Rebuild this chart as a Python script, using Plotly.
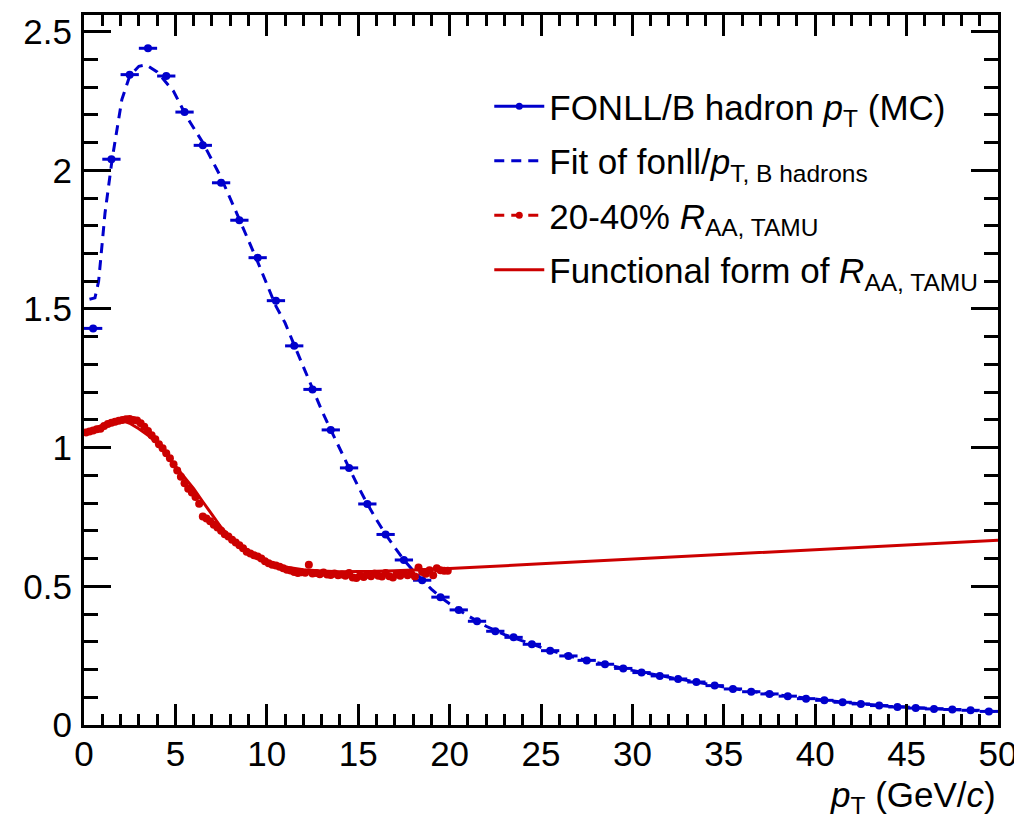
import plotly.graph_objects as go

# ---------------- data ----------------
fonll_x = [0.5, 1.5, 2.5, 3.5, 4.5, 5.5, 6.5, 7.5, 8.5, 9.5,
           10.5, 11.5, 12.5, 13.5, 14.5, 15.5, 16.5, 17.5, 18.5, 19.5,
           20.5, 21.5, 22.5, 23.5, 24.5, 25.5, 26.5, 27.5, 28.5, 29.5,
           30.5, 31.5, 32.5, 33.5, 34.5, 35.5, 36.5, 37.5, 38.5, 39.5,
           40.5, 41.5, 42.5, 43.5, 44.5, 45.5, 46.5, 47.5, 48.5, 49.5]
fonll_y = [1.43, 2.04, 2.345, 2.44, 2.34, 2.21, 2.09, 1.955, 1.82, 1.685,
           1.53, 1.367, 1.21, 1.064, 0.927, 0.797, 0.687, 0.595, 0.522, 0.461,
           0.415, 0.374, 0.338, 0.316, 0.291, 0.268, 0.249, 0.233, 0.219, 0.204,
           0.189, 0.177, 0.166, 0.155, 0.142, 0.130, 0.120, 0.112, 0.104, 0.095,
           0.089, 0.082, 0.076, 0.070, 0.065, 0.061, 0.058, 0.056, 0.053, 0.049]
fonll_xerr = [0.5] * len(fonll_x)

fit_x = [0.3, 0.6, 0.8, 1.15, 1.54, 2.07, 2.5, 3.0, 3.4, 4.0, 4.9, 5.6, 6.5, 7.45,
         8.35, 9.45, 10.5, 11.0, 11.5, 12.0, 12.5, 13.0, 13.5, 14.0, 14.5, 15.0,
         15.5, 16.0, 16.5, 17.0, 17.5, 18.0, 18.5, 19.0, 19.5, 20, 21, 22, 23, 24,
         25, 26, 27, 28, 29, 30, 32, 34, 36, 38, 40, 42, 44, 46, 48, 50]
fit_y = [1.535, 1.54, 1.60, 1.846, 2.04, 2.255, 2.34, 2.375, 2.38, 2.355, 2.285, 2.195,
         2.10, 1.98, 1.846, 1.678, 1.51, 1.45, 1.37, 1.29, 1.21, 1.135, 1.064, 0.993,
         0.927, 0.86, 0.797, 0.74, 0.687, 0.64, 0.595, 0.557, 0.522, 0.49, 0.461,
         0.437, 0.394, 0.356, 0.326, 0.302, 0.28, 0.259, 0.241, 0.226, 0.211, 0.197,
         0.172, 0.149, 0.126, 0.108, 0.093, 0.079, 0.068, 0.060, 0.054, 0.048]

raa_x = [0.1, 0.3, 0.5, 0.7, 0.9, 1.1, 1.3, 1.5, 1.7, 1.9,
         2.1, 2.3, 2.5, 2.7, 2.9, 3.1, 3.3, 3.5, 3.7, 3.9,
         4.1, 4.3, 4.5, 4.7, 4.9, 5.1, 5.3, 5.5, 5.7, 5.9,
         6.1, 6.3, 6.5, 6.7, 6.9, 7.1, 7.3, 7.5, 7.7, 7.9,
         8.1, 8.3, 8.5, 8.7, 8.9, 9.1, 9.3, 9.5, 9.7, 9.9,
         10.1, 10.3, 10.5, 10.7, 10.9, 11.1, 11.3, 11.5, 11.7, 11.9,
         12.1, 12.3, 12.5, 12.7, 12.9, 13.1, 13.3, 13.5, 13.7, 13.9,
         14.1, 14.3, 14.5, 14.7, 14.9, 15.1, 15.3, 15.5, 15.7, 15.9,
         16.1, 16.3, 16.5, 16.7, 16.9, 17.1, 17.3, 17.5, 17.7, 17.9,
         18.1, 18.3, 18.5, 18.7, 18.9, 19.1, 19.3, 19.5, 19.7, 19.9]
raa_y = [1.055, 1.058, 1.062, 1.066, 1.068, 1.078, 1.085, 1.090, 1.093, 1.097,
         1.100, 1.102, 1.103, 1.100, 1.098, 1.088, 1.075, 1.060, 1.045, 1.030,
         1.012, 0.998, 0.980, 0.962, 0.940, 0.918, 0.895, 0.872, 0.852, 0.838,
         0.822, 0.798, 0.752, 0.745, 0.735, 0.722, 0.712, 0.700, 0.688, 0.680,
         0.668, 0.658, 0.648, 0.637, 0.625, 0.618, 0.612, 0.608, 0.600, 0.590,
         0.583, 0.578, 0.575, 0.571, 0.565, 0.560, 0.557, 0.552, 0.548, 0.551,
         0.549, 0.578, 0.546, 0.548, 0.544, 0.550, 0.543, 0.541, 0.546, 0.540,
         0.543, 0.538, 0.548, 0.532, 0.530, 0.538, 0.534, 0.542, 0.536, 0.546,
         0.538, 0.535, 0.548, 0.536, 0.532, 0.544, 0.538, 0.548, 0.540, 0.545,
         0.535, 0.568, 0.552, 0.545, 0.558, 0.540, 0.565, 0.558, 0.556, 0.556]

func_x = [0, 0.5, 1, 1.5, 2, 2.5, 3, 3.5, 4, 4.5, 5, 5.5, 6, 6.5, 7, 7.5, 8, 8.5, 9,
          9.5, 10, 11, 12, 13, 14, 15, 16, 17, 18, 20, 25, 30, 35, 40, 45, 50]
func_y = [1.055, 1.068, 1.082, 1.094, 1.100, 1.088, 1.068, 1.045, 1.015, 0.975, 0.932,
          0.895, 0.852, 0.805, 0.757, 0.713, 0.677, 0.648, 0.625, 0.605, 0.59, 0.57,
          0.56, 0.555, 0.553, 0.553, 0.554, 0.556, 0.558, 0.564, 0.581, 0.598,
          0.615, 0.632, 0.649, 0.666]

legend_labels = [
    "FONLL/B hadron <i>p</i><sub>T</sub> (MC)",
    "Fit of fonll/<i>p</i><sub>T, B hadrons</sub>",
    "20-40% <i>R</i><sub>AA, TAMU</sub>",
    "Functional form of <i>R</i><sub>AA, TAMU</sub>",
]

x_ticks = [0, 5, 10, 15, 20, 25, 30, 35, 40, 45, 50]
y_ticks = [0, 0.5, 1, 1.5, 2, 2.5]
x_range = [0, 50]
y_range = [0, 2.56]

BLUE = "#0000cc"
RED = "#cc0000"
FONT = "Liberation Sans, Arial, Helvetica, sans-serif"

fig = go.Figure()

# data traces (legend drawn by dedicated legend-only entries)
fig.add_trace(go.Scatter(
    x=fonll_x, y=fonll_y, mode="markers",
    marker=dict(color=BLUE, size=8),
    error_x=dict(type="data", array=fonll_xerr, width=0, thickness=3, color=BLUE),
    showlegend=False))
fig.add_trace(go.Scatter(
    x=fit_x, y=fit_y, mode="lines",
    line=dict(color=BLUE, width=3, dash="10px,7px"),
    showlegend=False))
fig.add_trace(go.Scatter(
    x=raa_x, y=raa_y, mode="markers",
    marker=dict(color=RED, size=8),
    showlegend=False))
fig.add_trace(go.Scatter(
    x=func_x, y=func_y, mode="lines",
    line=dict(color=RED, width=3),
    showlegend=False))

# legend entries
fig.add_trace(go.Scatter(x=[None], y=[None], mode="lines+markers", name=legend_labels[0],
                         legendgroup="g1",
                         line=dict(color=BLUE, width=3), marker=dict(color=BLUE, size=7)))
fig.add_trace(go.Scatter(x=[None], y=[None], mode="lines", name=legend_labels[1],
                         legendgroup="g2",
                         line=dict(color=BLUE, width=3, dash="10px,7px")))
fig.add_trace(go.Scatter(x=[None], y=[None], mode="lines+markers", name=legend_labels[2],
                         legendgroup="g3",
                         line=dict(color=RED, width=3, dash="10px,7px"),
                         marker=dict(color=RED, size=7)))
fig.add_trace(go.Scatter(x=[None], y=[None], mode="lines", name=legend_labels[3],
                         legendgroup="g4",
                         line=dict(color=RED, width=3)))

axis_common = dict(
    showline=True, linecolor="black", linewidth=3, mirror="allticks",
    ticks="inside", tickcolor="black", tickwidth=2.5,
    showgrid=False, zeroline=False, automargin=False,
    tickfont=dict(family=FONT, size=35, color="black"),
)

fig.update_xaxes(range=x_range, tickvals=x_ticks, ticklen=21, ticklabelstandoff=-4,
                 minor=dict(dtick=1, ticks="inside", ticklen=11, tickwidth=2.5,
                            tickcolor="black", showgrid=False),
                 **axis_common)
fig.update_yaxes(range=y_range, tickvals=y_ticks, ticklen=27, ticklabelstandoff=2,
                 minor=dict(dtick=0.1, ticks="inside", ticklen=14, tickwidth=2.5,
                            tickcolor="black", showgrid=False),
                 **axis_common)

fig.add_annotation(
    xref="paper", yref="paper", x=1.0, y=0, xanchor="right", yanchor="top",
    yshift=-48, showarrow=False,
    text="<i>p</i><sub>T</sub> (GeV/<i>c</i>)",
    font=dict(family=FONT, size=35, color="black"))

# page body has an 8px margin: offset the plot area so it lands where the reference has it
fig.update_layout(
    width=1014, height=819,
    margin=dict(l=75.5, r=24, t=7, b=102),
    paper_bgcolor="white", plot_bgcolor="white",
    font=dict(family=FONT, color="black"),
    legend=dict(x=0.4434, y=0.9127, xanchor="left", yanchor="top",
                bgcolor="rgba(0,0,0,0)", borderwidth=0,
                font=dict(family=FONT, size=35, color="black"),
                itemwidth=50, tracegroupgap=6, traceorder="grouped"),
)

fig.write_html("out.html")
